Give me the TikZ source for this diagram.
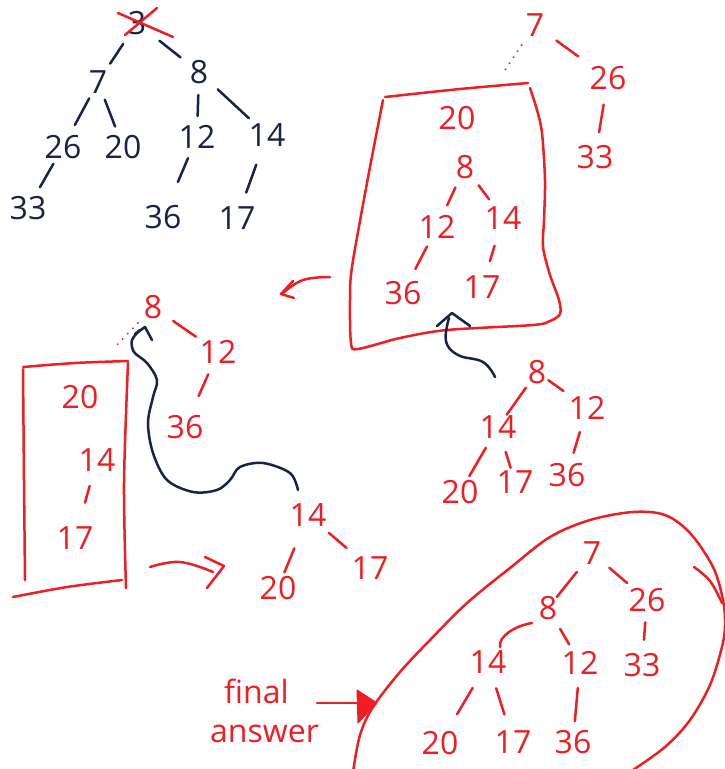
\documentclass[tikz,border=0pt]{standalone}
\usepackage{fontspec}
\setmainfont{Open Sans}
\usetikzlibrary{calc}
\definecolor{inkred}{RGB}{237,30,36}
\definecolor{inknavy}{RGB}{25,35,70}
\newcommand{\digitsize}{\fontsize{32}{34}\selectfont}
\newcommand{\wordsize}{\fontsize{32}{34}\selectfont}
\begin{document}
\begin{tikzpicture}[x=1pt,y=-1pt,
  pen/.style={line width=2.5pt, line cap=round, line join=round},
  redpen/.style={pen, draw=inkred},
  navypen/.style={pen, draw=inknavy},
  rnum/.style={inner sep=0pt, text=inkred, font=\digitsize},
  nnum/.style={inner sep=0pt, text=inknavy, font=\digitsize},
  br/.style 2 args={shorten <=#1pt, shorten >=#2pt},
  stub/.style={redpen, line width=2pt, dash pattern=on 0.3pt off 7pt}]

% canvas
\fill[white] (0,0) rectangle (725,769);
\useasboundingbox (0,0) rectangle (725,769);
\clip (0,0) rectangle (725,769);

% ---------- original heap (navy) ----------
\node[nnum] (a3)  at (137,23)  {3};
\node[nnum] (a7)  at (98,82)   {7};
\node[nnum] (a8)  at (199,72)  {8};
\node[nnum] (a26) at (63,147)  {26};
\node[nnum] (a20) at (123,147) {20};
\node[nnum] (a12) at (197,137) {12};
\node[nnum] (a14) at (267,135) {14};
\node[nnum] (a33) at (28,208)  {33};
\node[nnum] (a36) at (163,217) {36};
\node[nnum] (a17) at (237,218) {17};
\draw[navypen, br={25}{22}]     (a3.center) -- (a7.center);
\draw[navypen, br={28.6}{23.6}] (a3.center) -- (a8.center);
\draw[navypen, br={18.6}{25}]   (a7.center) -- (a26.center);
\draw[navypen, br={19}{22}]     (a7.center) -- (a20.center);
\draw[navypen, br={23}{21}]     (a8.center) -- (a12.center);
\draw[navypen, br={25.5}{24.7}] (a8.center) -- (a14.center);
\draw[navypen, br={19.4}{24}]   (a26.center) -- (a33.center);
\draw[navypen, br={23}{38}]     (a12.center) -- (a36.center);
\draw[navypen, br={31.6}{27}]   (a14.center) -- (a17.center);
% root removed
\draw[redpen] (118,13) -- (173,37);
\draw[redpen] (157,8) -- (125,35);

% ---------- after removing the root ----------
\node[rnum] (b7)  at (535,25)  {7};
\node[rnum] (b26) at (608,78)  {26};
\node[rnum] (b33) at (595,157) {33};
\coordinate (bstub) at (503,73);
\draw[redpen, br={26.4}{36.9}] (b7.center) -- (b26.center);
\draw[redpen, br={27}{25}]     (b26.center) -- (b33.center);
\draw[stub, shorten <=24pt]    (b7.center) -- (bstub);

% boxed subtree
\draw[redpen] plot[smooth, tension=0.5] coordinates {(385,97) (460,89) (528,83)};
\draw[redpen] plot[smooth, tension=0.5] coordinates {(530,88) (537,110) (542,133) (545,180) (544,220) (543,247) (550,275) (559,300) (560,314) (550,321) (533,325) (447,330) (400,338) (358,349) (351,343) (350,300) (352,267) (367,183) (383,100)};
\node[rnum] (c20) at (457,118) {20};
\node[rnum] (c8)  at (465,167) {8};
\node[rnum] (c12) at (437,227) {12};
\node[rnum] (c14) at (503,218) {14};
\node[rnum] (c36) at (403,293) {36};
\node[rnum] (c17) at (482,287) {17};
\draw[redpen, br={22.5}{24}]   (c8.center) -- (c12.center);
\draw[redpen, br={22.8}{23.3}] (c8.center) -- (c14.center);
\draw[redpen, br={22}{27}]     (c12.center) -- (c36.center);
\draw[redpen, br={29}{27}]     (c14.center) -- (c17.center);

% small hook arrow to the left
\draw[redpen] plot[smooth, tension=0.7] coordinates {(330,277) (303,280) (283,293)};
\draw[redpen] (293,281) -- (281,294) -- (294,298);

% navy arrow from the lower heap into the box
\draw[navypen] plot[smooth, tension=0.7] coordinates {(495,377) (483,362) (458,355) (446,341) (449,318)};
\draw[navypen] (437,326) -- (452,313) -- (470,326);

% ---------- next step (left) ----------
\node[rnum] (d8)  at (153,307) {8};
\node[rnum] (d12) at (218,352) {12};
\node[rnum] (d36) at (185,427) {36};
\coordinate (dstub) at (115,347);
\draw[redpen, br={24.6}{26.9}] (d8.center) -- (d12.center);
\draw[redpen, br={24.4}{33.8}] (d12.center) -- (d36.center);
\draw[stub, shorten <=22pt]    (d8.center) -- (dstub);

% tall box
\draw[redpen] plot[smooth, tension=0.5] coordinates {(23,367) (75,363) (128,361)};
\draw[redpen] plot[smooth, tension=0.5] coordinates {(23,369) (24,480) (25,580)};
\draw[redpen] plot[smooth, tension=0.5] coordinates {(128,363) (124,483) (126,588)};
\draw[redpen] plot[smooth, tension=0.5] coordinates {(13,597) (67,587) (122,580)};
\node[rnum] (e20) at (80,397)  {20};
\node[rnum] (e14) at (97,460)  {14};
\node[rnum] (e17) at (75,538)  {17};
\draw[redpen, br={27}{36.7}] (e14.center) -- (e17.center);

% small subtree
\node[rnum] (f14) at (308,515) {14};
\node[rnum] (f17) at (370,568) {17};
\node[rnum] (f20) at (278,588) {20};
\draw[redpen, br={27.7}{30.9}] (f14.center) -- (f17.center);
\draw[redpen, br={36}{16.8}]   (f14.center) -- (f20.center);

% hook arrow to the right
\draw[redpen] plot[smooth, tension=0.7] coordinates {(150,567) (180,562) (213,572)};
\draw[redpen] (205,557) -- (224,566) -- (207,588);

% navy arrow from the small subtree up to 8
\draw[navypen] plot[smooth, tension=0.55] coordinates {(298,490) (290,473) (263,463) (240,467) (230,480) (217,490) (193,492) (167,480) (153,453) (148,423) (153,397) (157,380) (147,363) (134,352) (132,340) (140,330)};
\draw[navypen] (135,334) -- (145,327) -- (152,340);

% ---------- heap on the right ----------
\node[rnum] (g8)  at (537,372) {8};
\node[rnum] (g14) at (498,427) {14};
\node[rnum] (g12) at (587,408) {12};
\node[rnum] (g20) at (460,492) {20};
\node[rnum] (g17) at (515,482) {17};
\node[rnum] (g36) at (567,475) {36};
\draw[redpen, br={19.2}{15.1}] (g8.center) -- (g14.center);
\draw[redpen, br={14}{29}]     (g8.center) -- (g12.center);
\draw[redpen, br={24}{18.4}]   (g14.center) -- (g20.center);
\draw[redpen, br={26}{15}]     (g14.center) -- (g17.center);
\draw[redpen, br={25}{23.2}]   (g12.center) -- (g36.center);

% ---------- final heap ----------
\node[rnum] (h7)  at (592,553) {7};
\node[rnum] (h8)  at (548,608) {8};
\node[rnum] (h26) at (647,600) {26};
\node[rnum] (h14) at (488,662) {14};
\node[rnum] (h12) at (580,663) {12};
\node[rnum] (h33) at (642,665) {33};
\node[rnum] (h20) at (440,743) {20};
\node[rnum] (h17) at (513,742) {17};
\node[rnum] (h36) at (573,742) {36};
\draw[redpen, br={24.2}{14.2}] (h7.center) -- (h8.center);
\draw[redpen, br={22.8}{26}]   (h7.center) -- (h26.center);
\draw[redpen] ($(h8.center)+(-16,15)$) .. controls ($(h8.center)+(-34,18)$) and ($(h14.center)+(10,-25)$) .. ($(h14.center)+(12,-15)$);
\draw[redpen, br={24.2}{21.5}] (h8.center) -- (h12.center);
\draw[redpen, br={22.4}{25.2}] (h26.center) -- (h33.center);
\draw[redpen, br={30}{33.5}]   (h14.center) -- (h20.center);
\draw[redpen, br={27.5}{29}]   (h14.center) -- (h17.center);
\draw[redpen, br={25}{20.9}]   (h12.center) -- (h36.center);

% loop round the final heap
\draw[redpen] plot[smooth, tension=0.55] coordinates {(353,772) (360,735) (373,707) (400,672) (430,640) (467,603) (510,568) (550,537) (590,520) (633,512) (665,515) (690,533) (713,567) (723,600) (725,625) (722,647) (710,685) (690,720) (665,747) (630,772)};
\draw[redpen] plot[smooth, tension=0.6] coordinates {(694,567) (710,581) (722,603)};

% label with arrow
\node[inner sep=0pt, text=inkred, font=\wordsize, anchor=base west] (lab1) at (224,703) {final};
\node[inner sep=0pt, text=inkred, font=\wordsize, anchor=base west] (lab2) at (210,742) {answer};
\coordinate (tip) at (377,703);
\draw[redpen] (317,703) -- (360,703);
\fill[inkred, draw=inkred, line width=1pt, line join=round] (357,690) -- (tip) -- (358,723) -- cycle;
\end{tikzpicture}
\end{document}
